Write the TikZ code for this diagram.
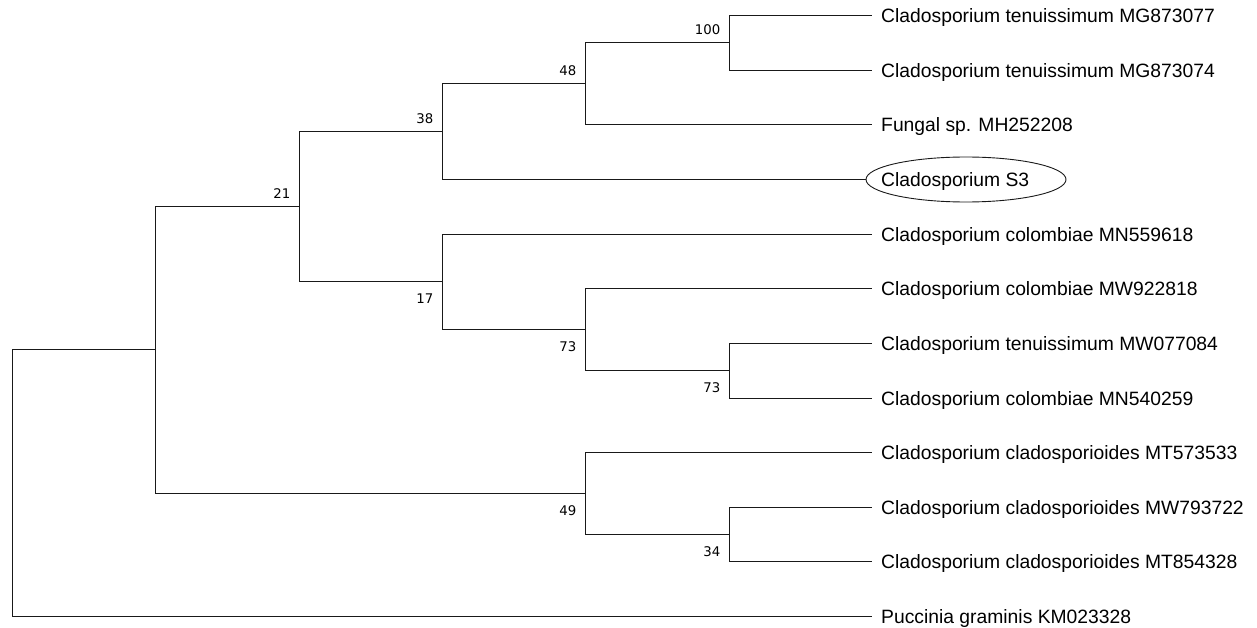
\documentclass[tikz,border=0pt]{standalone}
\usepackage{fontspec}
\setmainfont{Liberation Sans}
\newfontfamily\bsfont{DejaVu Sans}
\usetikzlibrary{shapes.geometric}
\begin{document}
\begin{tikzpicture}[x=1pt,y=-1pt,
  branch/.style={line width=1.3pt, draw=black!90},
  leaf/.style={anchor=west, inner xsep=9pt, inner ysep=0pt, text height=13.8pt, text depth=0pt, font=\fontsize{19.3}{22}\selectfont},
  bs/.style={anchor=east, inner sep=0pt, text height=9.5pt, text depth=0pt, font=\bsfont\fontsize{13.3}{15}\selectfont},
  bsup/.style={bs, xshift=-9pt, yshift=13pt},
  bsdown/.style={bs, xshift=-9pt, yshift=-17pt},
  ring/.style={draw=black!90, ellipse, line width=0.9pt, minimum width=200pt, minimum height=45pt, inner sep=0pt}]
\useasboundingbox (0,0) rectangle (1257,628);

% leaves
\node[leaf] (L1) at (872,15.5) {Cladosporium tenuissimum MG873077};
\node[leaf] (L2) at (872,70.5) {Cladosporium tenuissimum MG873074};
\node[leaf] (L3) at (872,124.5) {Fungal sp. MH252208};
\node[leaf] (L4) at (872,179.5) {Cladosporium S3};
\node[ring] (S3ring) at (966,179.5) {};
\node[leaf] (L5) at (872,234.5) {Cladosporium colombiae MN559618};
\node[leaf] (L6) at (872,288.5) {Cladosporium colombiae MW922818};
\node[leaf] (L7) at (872,343.5) {Cladosporium tenuissimum MW077084};
\node[leaf] (L8) at (872,398.5) {Cladosporium colombiae MN540259};
\node[leaf] (L9) at (872,452.5) {Cladosporium cladosporioides MT573533};
\node[leaf] (L10) at (872,507.5) {Cladosporium cladosporioides MW793722};
\node[leaf] (L11) at (872,561.5) {Cladosporium cladosporioides MT854328};
\node[leaf] (L12) at (872,616.5) {Puccinia graminis KM023328};

% internal nodes
\coordinate (n100) at (729.5,42.5);
\coordinate (n48) at (585.5,83.5);
\coordinate (n38) at (442.5,131.5);
\coordinate (n73b) at (729.5,370.5);
\coordinate (n73a) at (585.5,329.5);
\coordinate (n17) at (442.5,281.5);
\coordinate (n21) at (299.5,206.5);
\coordinate (n34) at (729.5,534.5);
\coordinate (n49) at (585.5,493.5);
\coordinate (n155) at (155.5,349.5);
\coordinate (root) at (12.5,482.5);

% branches
\draw[branch] (n100) |- (L1.west);
\draw[branch] (n100) |- (L2.west);
\draw[branch] (n48) |- (n100);
\draw[branch] (n48) |- (L3.west);
\draw[branch] (n38) |- (n48);
\draw[branch] (n38) |- (S3ring.west);
\draw[branch] (n73b) |- (L7.west);
\draw[branch] (n73b) |- (L8.west);
\draw[branch] (n73a) |- (L6.west);
\draw[branch] (n73a) |- (n73b);
\draw[branch] (n17) |- (L5.west);
\draw[branch] (n17) |- (n73a);
\draw[branch] (n21) |- (n38);
\draw[branch] (n21) |- (n17);
\draw[branch] (n34) |- (L10.west);
\draw[branch] (n34) |- (L11.west);
\draw[branch] (n49) |- (L9.west);
\draw[branch] (n49) |- (n34);
\draw[branch] (n155) |- (n21);
\draw[branch] (n155) |- (n49);
\draw[branch] (root) |- (n155);
\draw[branch] (root) |- (L12.west);

% bootstrap values
\node[bsup] (b100) at (n100) {100};
\node[bsup] (b48) at (n48) {48};
\node[bsup] (b38) at (n38) {38};
\node[bsup] (b21) at (n21) {21};
\node[bsdown] (b17) at (n17) {17};
\node[bsdown] (b73a) at (n73a) {73};
\node[bsdown] (b73b) at (n73b) {73};
\node[bsdown] (b49) at (n49) {49};
\node[bsdown] (b34) at (n34) {34};
\end{tikzpicture}
\end{document}
